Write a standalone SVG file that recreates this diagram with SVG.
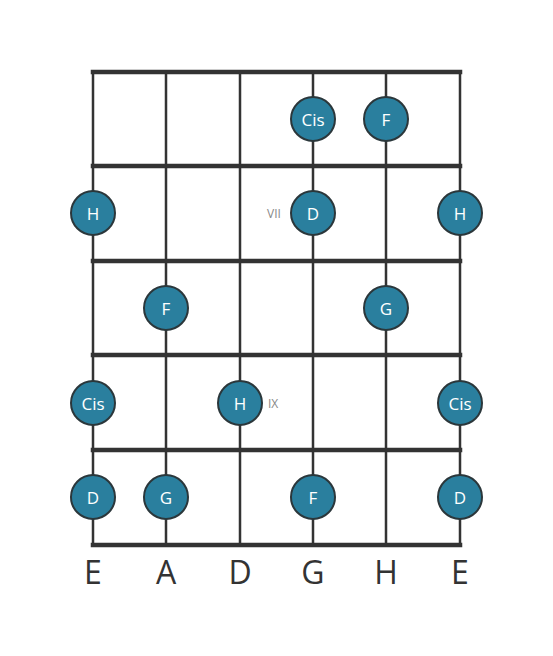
<svg xmlns="http://www.w3.org/2000/svg" width="553" height="656" viewBox="0 0 553 656">
<style>
.fret{stroke:#333;stroke-width:4.5;stroke-linecap:square}
.str{stroke:#333;stroke-width:2.5}
.dot circle{fill:#2a7f9e;stroke:#2b373b;stroke-width:2}
.dot text{fill:#fff;font-family:"Open Sans","DejaVu Sans",sans-serif;font-size:17px;text-anchor:middle;dominant-baseline:central}
.pos{fill:#888;font-family:"Open Sans","DejaVu Sans",sans-serif;font-size:12px;dominant-baseline:central}
.sn{fill:#333;font-family:"Open Sans","DejaVu Sans",sans-serif;font-size:32px;text-anchor:middle}
</style>
<rect width="553" height="656" fill="#fff"/>
<g id="connectors">
<line class="str" x1="93" y1="72" x2="93" y2="545"/>
<line class="str" x1="166" y1="72" x2="166" y2="545"/>
<line class="str" x1="240" y1="72" x2="240" y2="545"/>
<line class="str" x1="313" y1="72" x2="313" y2="545"/>
<line class="str" x1="386" y1="72" x2="386" y2="545"/>
<line class="str" x1="460" y1="72" x2="460" y2="545"/>
<line class="fret" x1="93" y1="72" x2="460" y2="72"/>
<line class="fret" x1="93" y1="166" x2="460" y2="166"/>
<line class="fret" x1="93" y1="261" x2="460" y2="261"/>
<line class="fret" x1="93" y1="355" x2="460" y2="355"/>
<line class="fret" x1="93" y1="450" x2="460" y2="450"/>
<line class="fret" x1="93" y1="545" x2="460" y2="545"/>
</g>
<text class="pos" x="267" y="213">VII</text>
<text class="pos" x="268" y="403">IX</text>
<g id="n1" class="dot"><circle cx="313" cy="119" r="22"/><text x="313" y="119">Cis</text></g>
<g id="n2" class="dot"><circle cx="386" cy="119" r="22"/><text x="386" y="119">F</text></g>
<g id="n3" class="dot"><circle cx="93" cy="213" r="22"/><text x="93" y="213">H</text></g>
<g id="n4" class="dot"><circle cx="313" cy="213" r="22"/><text x="313" y="213">D</text></g>
<g id="n5" class="dot"><circle cx="460" cy="213" r="22"/><text x="460" y="213">H</text></g>
<g id="n6" class="dot"><circle cx="166" cy="308" r="22"/><text x="166" y="308">F</text></g>
<g id="n7" class="dot"><circle cx="386" cy="308" r="22"/><text x="386" y="308">G</text></g>
<g id="n8" class="dot"><circle cx="93" cy="403" r="22"/><text x="93" y="403">Cis</text></g>
<g id="n9" class="dot"><circle cx="240" cy="403" r="22"/><text x="240" y="403">H</text></g>
<g id="n10" class="dot"><circle cx="460" cy="403" r="22"/><text x="460" y="403">Cis</text></g>
<g id="n11" class="dot"><circle cx="93" cy="497" r="22"/><text x="93" y="497">D</text></g>
<g id="n12" class="dot"><circle cx="166" cy="497" r="22"/><text x="166" y="497">G</text></g>
<g id="n13" class="dot"><circle cx="313" cy="497" r="22"/><text x="313" y="497">F</text></g>
<g id="n14" class="dot"><circle cx="460" cy="497" r="22"/><text x="460" y="497">D</text></g>
<g id="labels">
<text class="sn" x="93" y="584">E</text>
<text class="sn" x="166" y="584">A</text>
<text class="sn" x="240" y="584">D</text>
<text class="sn" x="313" y="584">G</text>
<text class="sn" x="386" y="584">H</text>
<text class="sn" x="460" y="584">E</text>
</g>
</svg>
